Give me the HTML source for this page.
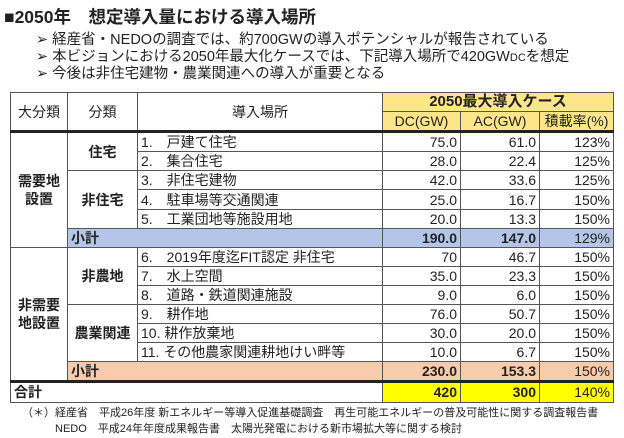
<!DOCTYPE html>
<html><head><meta charset="utf-8"><style>
body{margin:0;width:624px;height:438px;background:#fff;font-family:"Liberation Sans","Noto Sans CJK JP",sans-serif;color:#222;position:relative;overflow:hidden}
.t{position:absolute;white-space:nowrap}
table{position:absolute;left:10px;top:92px;border-collapse:collapse;table-layout:fixed;font-size:14px}
td{border:1px solid #555;padding:0 3px;height:18.1px;line-height:16px;overflow:hidden;white-space:nowrap}
.r{text-align:right}.c{text-align:center}.b{font-weight:bold}
.y{background:#fde68a}.bl{background:#b4c6e7}.or{background:#f8cbad}.ye{background:#ffff00}
</style></head><body>
<div class="t b" style="left:4px;top:4px;font-size:17.5px">■2050年　想定導入量における導入場所</div>
<div class="t" style="left:36px;top:32px;font-size:14.5px;line-height:16.5px">➢ 経産省・NEDOの調査では、約700GWの導入ポテンシャルが報告されている<br>➢ 本ビジョンにおける2050年最大化ケースでは、下記導入場所で420GW<span style="font-size:11px">DC</span>を想定<br>➢ 今後は非住宅建物・農業関連への導入が重要となる</div>
<table>
<colgroup><col style="width:57px"><col style="width:70px"><col style="width:245px"><col style="width:78px"><col style="width:79px"><col style="width:74px"></colgroup>
<tr><td rowspan="2" class="c" style="height:36px">大分類</td><td rowspan="2" class="c">分類</td><td rowspan="2" class="c">導入場所</td><td colspan="3" class="c b y" style="font-size:15px">2050最大導入ケース</td></tr>
<tr><td class="c y">DC(GW)</td><td class="c y">AC(GW)</td><td class="c y">積載率(%)</td></tr>
<tr style="border-top:3px solid #222"><td rowspan="6" class="c b" style="line-height:18px">需要地<br>設置</td><td rowspan="2" class="c b">住宅</td><td>1.　戸建て住宅</td><td class="r">75.0</td><td class="r">61.0</td><td class="r">123%</td></tr>
<tr><td>2.　集合住宅</td><td class="r">28.0</td><td class="r">22.4</td><td class="r">125%</td></tr>
<tr><td rowspan="3" class="c b">非住宅</td><td>3.　非住宅建物</td><td class="r">42.0</td><td class="r">33.6</td><td class="r">125%</td></tr>
<tr><td>4.　駐車場等交通関連</td><td class="r">25.0</td><td class="r">16.7</td><td class="r">150%</td></tr>
<tr><td>5.　工業団地等施設用地</td><td class="r">20.0</td><td class="r">13.3</td><td class="r">150%</td></tr>
<tr class="bl"><td colspan="2" class="b">小計</td><td class="r b">190.0</td><td class="r b">147.0</td><td class="r">129%</td></tr>
<tr><td rowspan="7" class="c b" style="line-height:18px">非需要<br>地設置</td><td rowspan="3" class="c b">非農地</td><td>6.　2019年度迄FIT認定 非住宅</td><td class="r">70</td><td class="r">46.7</td><td class="r">150%</td></tr>
<tr><td>7.　水上空間</td><td class="r">35.0</td><td class="r">23.3</td><td class="r">150%</td></tr>
<tr><td>8.　道路・鉄道関連施設</td><td class="r">9.0</td><td class="r">6.0</td><td class="r">150%</td></tr>
<tr><td rowspan="3" class="c b">農業関連</td><td>9.　耕作地</td><td class="r">76.0</td><td class="r">50.7</td><td class="r">150%</td></tr>
<tr><td>10. 耕作放棄地</td><td class="r">30.0</td><td class="r">20.0</td><td class="r">150%</td></tr>
<tr><td>11. その他農家関連耕地けい畔等</td><td class="r">10.0</td><td class="r">6.7</td><td class="r">150%</td></tr>
<tr class="or"><td colspan="2" class="b">小計</td><td class="r b">230.0</td><td class="r b">153.3</td><td class="r">150%</td></tr>
<tr style="border-top:3px solid #222"><td colspan="3" class="b">合計</td><td class="r b ye">420</td><td class="r b ye">300</td><td class="r ye">140%</td></tr>
</table>
<div class="t" style="left:22px;top:405px;font-size:11px;line-height:16px">（＊）経産省　平成26年度 新エネルギー等導入促進基礎調査　再生可能エネルギーの普及可能性に関する調査報告書<br>　　　NEDO　平成24年年度成果報告書　太陽光発電における新市場拡大等に関する検討</div>
</body></html>
